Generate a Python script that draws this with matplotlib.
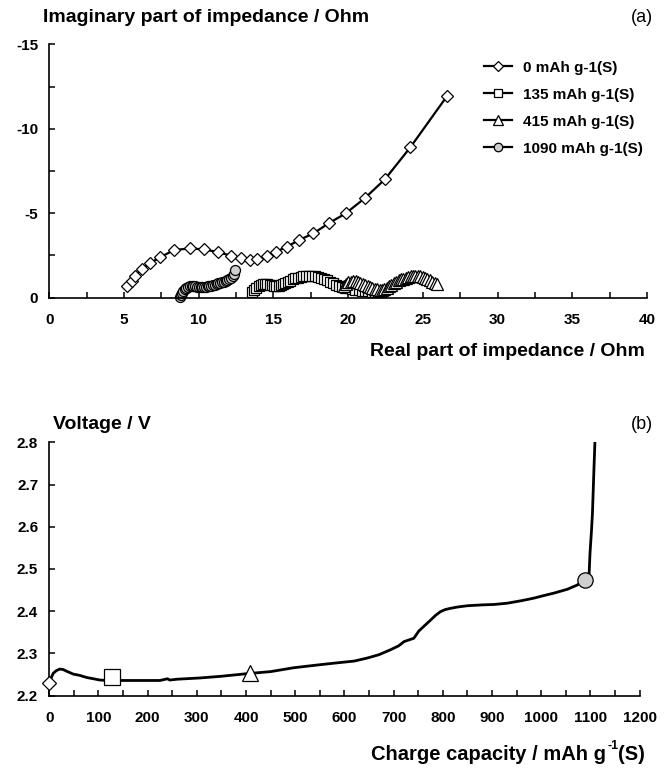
import matplotlib
matplotlib.use("Agg")
import matplotlib.pyplot as plt
from matplotlib.ticker import MultipleLocator

plt.rcParams['font.family'] = ['Liberation Sans', 'DejaVu Sans']
plt.rcParams['axes.unicode_minus'] = False

# (a) impedance spectra: real part / Ohm, imaginary part / Ohm
re_0 = [5.18, 5.52, 5.74, 6.19, 6.74, 7.41, 8.35, 9.42, 10.36, 11.32, 12.15, 12.82,
        13.40, 13.93, 14.56, 15.18, 15.90, 16.74, 17.68, 18.69, 19.85, 21.15, 22.46,
        24.16, 26.62]
im_0 = [-0.69, -1.01, -1.30, -1.68, -2.04, -2.39, -2.82, -2.92, -2.86, -2.69, -2.49, -2.33,
        -2.23, -2.31, -2.49, -2.72, -3.02, -3.42, -3.81, -4.40, -5.00, -5.92, -7.01,
        -8.90, -11.94]

re_135 = [13.56, 13.70, 13.85, 14.00, 14.15, 14.30, 14.45, 14.60, 14.75, 14.90, 15.05,
          15.20, 15.35, 15.50, 15.65, 15.80, 15.95, 16.10, 16.28, 16.46, 16.64, 16.82,
          17.00, 17.20, 17.40, 17.60, 17.80, 18.00, 18.20, 18.40, 18.60, 18.80, 19.00,
          19.20, 19.40, 19.60, 19.82, 20.04, 20.26, 20.48, 20.70, 20.92, 21.14, 21.36,
          21.58, 21.80, 22.00, 22.20]
im_135 = [-0.36, -0.48, -0.60, -0.69, -0.75, -0.79, -0.81, -0.80, -0.77, -0.73, -0.71,
          -0.70, -0.71, -0.74, -0.79, -0.86, -0.94, -1.01, -1.08, -1.14, -1.19, -1.23,
          -1.27, -1.30, -1.31, -1.31, -1.29, -1.25, -1.19, -1.11, -1.02, -0.93, -0.85,
          -0.77, -0.70, -0.64, -0.59, -0.55, -0.51, -0.48, -0.45, -0.42, -0.40, -0.38,
          -0.36, -0.34, -0.33, -0.32]

re_415 = [19.70, 19.86, 20.02, 20.18, 20.34, 20.50, 20.66, 20.82, 20.98, 21.14, 21.30,
          21.46, 21.62, 21.78, 21.94, 22.10, 22.26, 22.42, 22.58, 22.74, 22.90, 23.06,
          23.22, 23.38, 23.54, 23.70, 23.86, 24.02, 24.18, 24.34, 24.50, 24.66, 24.82,
          24.98, 25.14, 25.30, 25.46, 25.62, 25.78, 25.92]
im_415 = [-0.72, -0.82, -0.90, -0.95, -0.97, -0.96, -0.93, -0.88, -0.83, -0.77, -0.71,
          -0.65, -0.59, -0.54, -0.50, -0.47, -0.47, -0.52, -0.60, -0.69, -0.78, -0.87,
          -0.95, -1.02, -1.08, -1.13, -1.18, -1.22, -1.26, -1.29, -1.31, -1.31, -1.29,
          -1.25, -1.19, -1.11, -1.02, -0.93, -0.85, -0.80]

re_1090 = [8.78, 8.83, 8.90, 8.98, 9.07, 9.17, 9.28, 9.40, 9.52, 9.64, 9.76, 9.88, 10.00,
           10.12, 10.24, 10.36, 10.48, 10.60, 10.72, 10.84, 10.96, 11.08, 11.20, 11.32,
           11.44, 11.56, 11.68, 11.80, 11.92, 12.04, 12.16, 12.27, 12.37, 12.45]
im_1090 = [-0.06, -0.18, -0.30, -0.41, -0.50, -0.57, -0.63, -0.67, -0.69, -0.69, -0.68,
           -0.66, -0.64, -0.63, -0.63, -0.64, -0.65, -0.67, -0.69, -0.72, -0.75, -0.78,
           -0.81, -0.84, -0.87, -0.90, -0.94, -0.98, -1.03, -1.09, -1.17, -1.28, -1.43,
           -1.62]

labels = ['0 mAh g-1(S)', '135 mAh g-1(S)', '415 mAh g-1(S)', '1090 mAh g-1(S)']

# (b) charge curve
cap = [0, 3, 8, 14, 21, 28, 35, 49, 62, 76, 90, 103, 120, 143, 180, 225, 240, 245, 260,
       307, 350, 401, 450, 496, 540, 579, 620, 646, 670, 694, 710, 721, 741, 751, 763,
       775, 785, 795, 805, 816, 830, 850, 880, 904, 931, 960, 985, 1005, 1026, 1053,
       1073, 1088, 1097, 1099, 1102, 1104, 1107, 1109]
volt = [2.231, 2.240, 2.253, 2.259, 2.263, 2.262, 2.258, 2.251, 2.248, 2.243, 2.240,
        2.237, 2.236, 2.236, 2.236, 2.236, 2.240, 2.237, 2.239, 2.242, 2.246, 2.252,
        2.257, 2.266, 2.272, 2.277, 2.282, 2.289, 2.297, 2.309, 2.318, 2.328, 2.336,
        2.353, 2.366, 2.379, 2.390, 2.399, 2.404, 2.407, 2.410, 2.413, 2.415, 2.416,
        2.419, 2.425, 2.431, 2.437, 2.443, 2.452, 2.462, 2.474, 2.482, 2.537, 2.590,
        2.632, 2.735, 2.800]

# points where the spectra were taken
mark_cap = [0, 127, 408, 1088]
mark_volt = [2.231, 2.245, 2.254, 2.474]

markers = ['D', 's', '^', 'o']
faces = ['white', 'white', 'white', '#cfcfcf']
ms_top = [6.2, 7.0, 8.4, 7.2]
ms_bot = [7.2, 11.0, 12.0, 11.0]

fig = plt.figure(figsize=(6.68, 7.71), dpi=100)
ax1 = fig.add_axes([0.0738, 0.6139, 0.8948, 0.3286])
ax2 = fig.add_axes([0.0738, 0.0977, 0.8838, 0.3286])

series = [(re_0, im_0), (re_135, im_135), (re_415, im_415), (re_1090, im_1090)]
for i, (xs, ys) in enumerate(series):
    ax1.plot(xs, ys, color='black', lw=1.6, marker=markers[i], ms=ms_top[i],
             mfc=faces[i], mec='black', mew=0.9, label=labels[i], clip_on=False)

ax1.set_xlim(0, 40)
ax1.set_ylim(0, -15)
ax1.xaxis.set_major_locator(MultipleLocator(5))
ax1.xaxis.set_minor_locator(MultipleLocator(2.5))
ax1.yaxis.set_major_locator(MultipleLocator(5))
ax1.yaxis.set_minor_locator(MultipleLocator(2.5))

leg = ax1.legend(loc='upper left', bbox_to_anchor=(476 / 668, 1 - 53 / 771),
                 bbox_transform=fig.transFigure, frameon=False, borderpad=0,
                 handlelength=1.85, handletextpad=0.75, labelspacing=0.85,
                 markerscale=0.85, prop={'weight': 'bold', 'size': 11})

ax2.plot(cap, volt, color='black', lw=2.0)
for i in range(4):
    ax2.plot(mark_cap[i], mark_volt[i], linestyle='none', marker=markers[i],
             ms=ms_bot[i], mfc=faces[i], mec='black', mew=0.9, clip_on=False, zorder=3)

ax2.set_xlim(0, 1200)
ax2.set_ylim(2.2, 2.8)
ax2.xaxis.set_major_locator(MultipleLocator(100))
ax2.xaxis.set_minor_locator(MultipleLocator(50))
ax2.yaxis.set_major_locator(MultipleLocator(0.1))
ax2.yaxis.set_major_formatter(plt.FormatStrFormatter('%.1f'))

for ax in (ax1, ax2):
    ax.spines['top'].set_visible(False)
    ax.spines['right'].set_visible(False)
    ax.spines['left'].set_linewidth(1.2)
    ax.spines['bottom'].set_linewidth(1.2)
    ax.tick_params(which='both', direction='in', length=4, width=1.1)
    ax.tick_params(which='major', labelsize=11)
    ax.tick_params(axis='y', pad=8)
    ax.tick_params(axis='x', pad=11)
    for lbl in ax.get_xticklabels() + ax.get_yticklabels():
        lbl.set_fontweight('bold')

fig.text(43 / 668, 1 - 18 / 771, 'Imaginary part of impedance / Ohm',
         fontsize=14, fontweight='bold', va='center', ha='left')
fig.text(653 / 668, 1 - 18 / 771, '(a)', fontsize=13, va='center', ha='right')
fig.text(645 / 668, 1 - 352 / 771, 'Real part of impedance / Ohm',
         fontsize=14, fontweight='bold', va='center', ha='right')

fig.text(53 / 668, 1 - 424 / 771, 'Voltage / V',
         fontsize=14, fontweight='bold', va='center', ha='left')
fig.text(653 / 668, 1 - 424 / 771, '(b)', fontsize=13, va='center', ha='right')

# x label of (b), built from pieces so the superscript keeps a plain hyphen
renderer = fig.canvas.get_renderer()
t3 = fig.text(645 / 668, 1 - 755 / 771, '(S)', fontsize=14.5, fontweight='bold',
              va='center', ha='right')
w3 = t3.get_window_extent(renderer).width
t2 = fig.text(645 / 668 - w3 / 668, 1 - 746 / 771, '-1', fontsize=9, fontweight='bold',
              va='center', ha='right')
w2 = t2.get_window_extent(renderer).width
fig.text(645 / 668 - (w3 + w2 + 1) / 668, 1 - 755 / 771, 'Charge capacity / mAh g',
         fontsize=14.5, fontweight='bold', va='center', ha='right')

fig.savefig('out.png', dpi=100)
